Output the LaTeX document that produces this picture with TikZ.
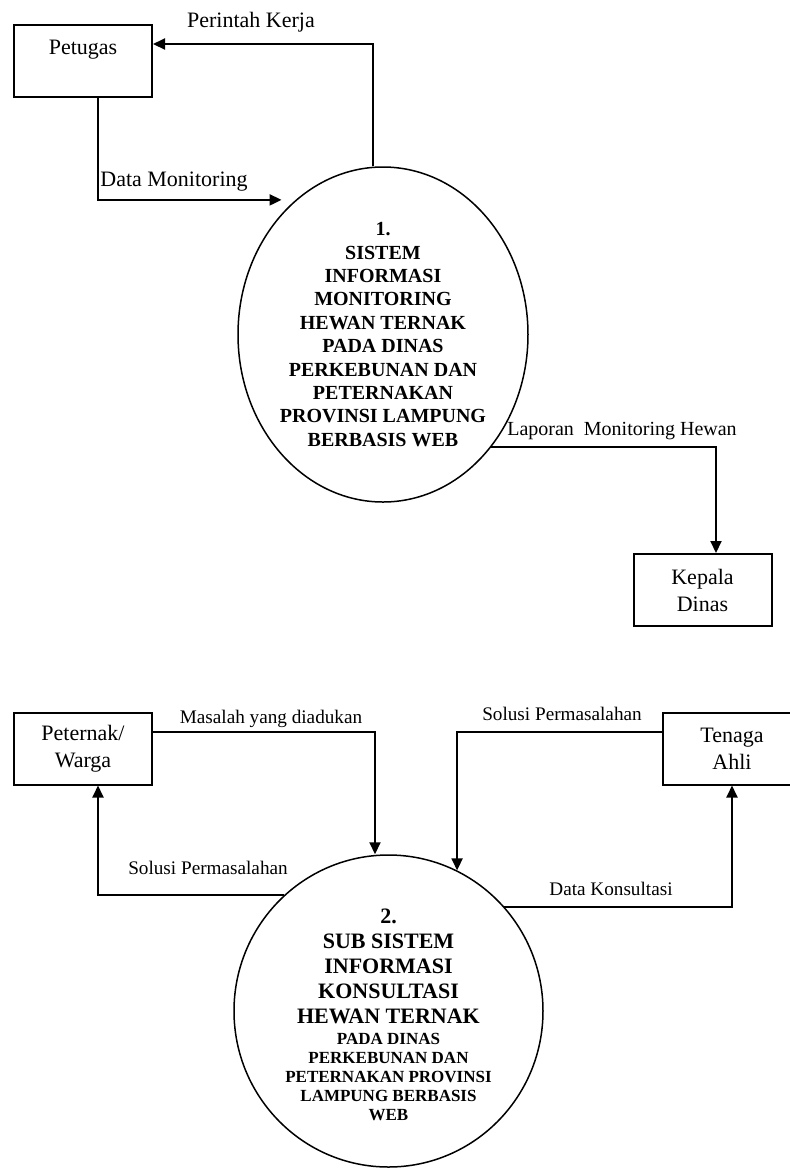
\documentclass[tikz,border=0pt]{standalone}
\usepackage{fontspec}
\setmainfont{Liberation Serif}
\usetikzlibrary{shapes.geometric,arrows.meta}

\newlength{\du}
\setlength{\du}{0.5pt}
\newcommand{\kecil}{\fontsize{8.5}{9.5}\selectfont}

\tikzset{
  entity/.style={draw, rectangle, line width=1pt, minimum width=69pt, minimum height=36pt,
    inner sep=1pt, align=center, font=\fontsize{11}{13.5}\selectfont},
  process/.style={draw, ellipse, line width=0.75pt, inner sep=0pt},
  processtext/.style={inner sep=0pt, align=center, font=\bfseries},
  flow/.style={line width=1pt, -{Triangle[length=6pt,width=5.5pt]}},
  flowlabel/.style={inner sep=0pt, font=\fontsize{9.6}{11}\selectfont},
}

\begin{document}
\begin{tikzpicture}[x=\du, y=-\du]
\useasboundingbox (0,0) rectangle (789,1169);

% external entities
\node[entity] (petugas) at (83,61) {Petugas\\~};
\node[entity] (kepala) at (702.5,590) {Kepala\\Dinas};
\node[entity] (peternak) at (83,748.5) {Peternak/\\Warga};
\node[entity] (tenaga) at (732,748.5) {Tenaga\\Ahli};

% processes
\node[process, minimum width=145pt, minimum height=167.5pt] (p1) at (383,334.5) {};
\node[processtext, font=\bfseries\fontsize{10}{11.7}\selectfont] (p1text) at (p1)
  {1.\\SISTEM\\INFORMASI\\MONITORING\\HEWAN TERNAK\\PADA DINAS\\PERKEBUNAN DAN\\PETERNAKAN\\PROVINSI LAMPUNG\\BERBASIS WEB};
\node[process, minimum width=154.5pt, minimum height=156pt] (p2) at (388.5,1011) {};
\node[processtext, font=\bfseries\fontsize{11}{9.5}\selectfont] (p2text) at (388.5,1015)
  {2.\\[3pt]SUB SISTEM\\[3pt]INFORMASI\\[3pt]KONSULTASI\\[3pt]HEWAN TERNAK\\[1.3pt]
   \kecil PADA DINAS\\\kecil PERKEBUNAN DAN\\\kecil PETERNAKAN PROVINSI\\\kecil LAMPUNG BERBASIS\\\kecil WEB};

% data flows
\draw[flow] ([xshift=-5pt]p1.north) |- ([yshift=8.5pt]petugas.east);
\draw[flow, shorten >=7pt] ([xshift=7.5pt]petugas.south) |- (p1.123);
\draw[flow] (p1.314) -| ([xshift=6.75pt]kepala.north);
\draw[flow] ([yshift=8.25pt]peternak.east) -| ([xshift=-6.75pt]p2.north);
\draw[flow] (p2.132) -| ([xshift=7.5pt]peternak.south);
\draw[flow] ([yshift=8.25pt]tenaga.west) -| (p2.64);
\draw[flow] (p2.42) -| (tenaga.south);

% labels
\node[flowlabel, font=\fontsize{11}{13}\selectfont] (lperintah) at (251,22) {Perintah Kerja};
\node[flowlabel, font=\fontsize{11}{13}\selectfont] (ldatamon) at (174,182) {Data Monitoring};
\node[flowlabel, font=\fontsize{10}{12}\selectfont] (llaporan) at (622,431) {Laporan\ \ Monitoring Hewan};
\node[flowlabel] (lmasalah) at (271,719) {Masalah yang diadukan};
\node[flowlabel] (lsolusikiri) at (208,868) {Solusi Permasalahan};
\node[flowlabel] (lsolusikanan) at (562,714) {Solusi Permasalahan};
\node[flowlabel] (lkonsultasi) at (611,889) {Data Konsultasi};
\end{tikzpicture}
\end{document}
